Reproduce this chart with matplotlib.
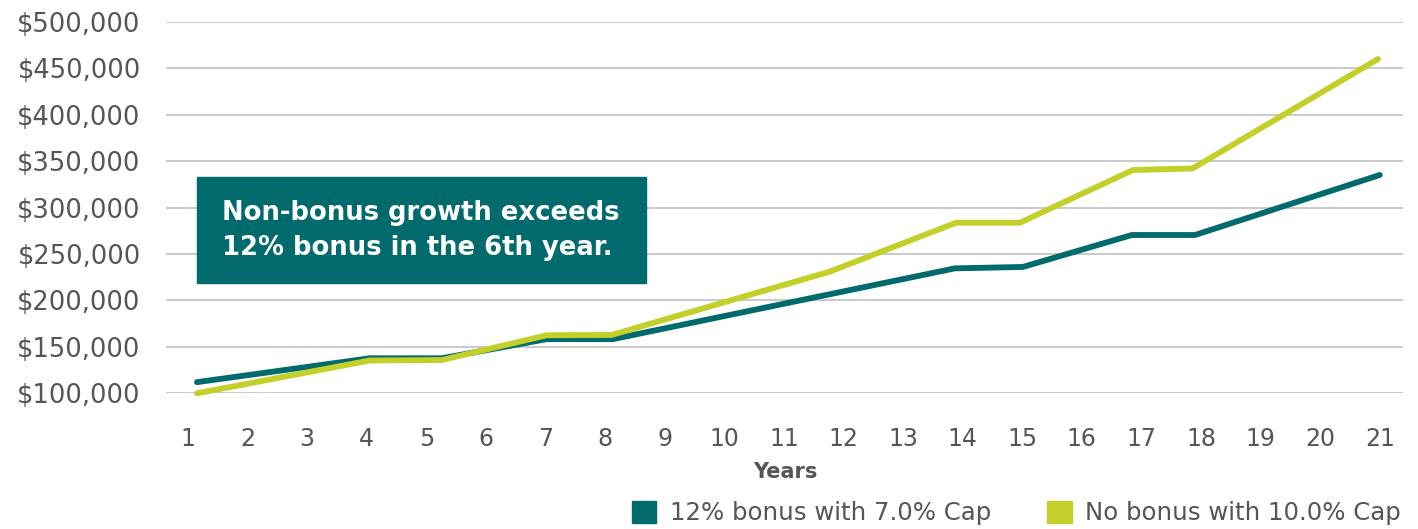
import matplotlib.pyplot as plt
from matplotlib.patches import Rectangle, Patch

# values (x in years, y in dollars)
years_bonus = [1.15, 4.05, 5.26, 7.02, 8.13, 13.87, 15.01, 16.84, 17.90, 21.0]
value_bonus = [112000, 137700, 137700, 158300, 158300, 234500, 236000, 270400, 270400, 335000]

years_nobonus = [1.15, 4.05, 5.26, 7.02, 8.11, 11.77, 13.89, 14.96, 16.86, 17.86, 20.97]
value_nobonus = [100000, 135300, 135800, 162500, 162800, 231000, 283600, 283600, 340400, 342000, 459800]

year_ticks = list(range(1, 22))
dollar_ticks = list(range(100000, 500001, 50000))

series_names = ["12% bonus with 7.0% Cap", "No bonus with 10.0% Cap"]
note_lines = ["Non-bonus growth exceeds", "12% bonus in the 6th year."]

TEAL = '#006a6c'
LIME = '#c4d02a'
GREY_TXT = '#555555'

plt.rcParams['font.family'] = ['DejaVu Sans']

W, H = 1418, 529
fig = plt.figure(figsize=(W / 100, H / 100), dpi=100)
ax = fig.add_axes([165.7 / W, 1 - 393.3 / H, (1403 - 165.7) / W, (393.3 - 21.7) / H])

ax.plot(years_bonus, value_bonus, color=TEAL, lw=4.2, solid_capstyle='round',
        solid_joinstyle='round', clip_on=False, zorder=3)
ax.plot(years_nobonus, value_nobonus, color=LIME, lw=4.2, solid_capstyle='round',
        solid_joinstyle='round', clip_on=False, zorder=3)

ax.set_xlim(0.626, 21.39)
ax.set_ylim(100000, 500000)
ax.set_xticks(year_ticks)
ax.set_xticklabels([str(y) for y in year_ticks])
ax.set_yticks(dollar_ticks)
ax.set_yticklabels(['${:,}'.format(v) for v in dollar_ticks])
ax.tick_params(axis='both', length=0, labelcolor=GREY_TXT)
ax.tick_params(axis='y', pad=18, labelsize=18.5)
ax.tick_params(axis='x', pad=24, labelsize=17)
ax.grid(True, axis='y', color='#c6c6c6', lw=1.3)
ax.set_axisbelow(True)
for s in ax.spines.values():
    s.set_visible(False)

# note box
fig.patches.append(Rectangle((196.7 / W, 1 - 282.7 / H), (646 - 196.7) / W, (282.7 - 177.3) / H,
                             transform=fig.transFigure, color=TEAL, zorder=5))
fig.text(221.7 / W, 1 - 212.7 / H, note_lines[0], color='white', fontsize=18.6,
         fontweight='bold', va='center', ha='left', zorder=6)
fig.text(221.7 / W, 1 - 247.7 / H, note_lines[1], color='white', fontsize=18.6,
         fontweight='bold', va='center', ha='left', zorder=6)

fig.text(785 / W, 1 - 472 / H, "Years", color=GREY_TXT, fontsize=15,
         fontweight='bold', ha='center', va='center')

handles = [Patch(color=TEAL), Patch(color=LIME)]
fig.legend(handles, series_names, loc='center right', bbox_to_anchor=(1401 / W, 1 - 513 / H),
           ncol=2, frameon=False, fontsize=17.6, labelcolor=GREY_TXT,
           handlelength=1.0, handleheight=1.0, handletextpad=0.55, columnspacing=2.3,
           borderpad=0, borderaxespad=0)

fig.savefig('out.png', dpi=100)
